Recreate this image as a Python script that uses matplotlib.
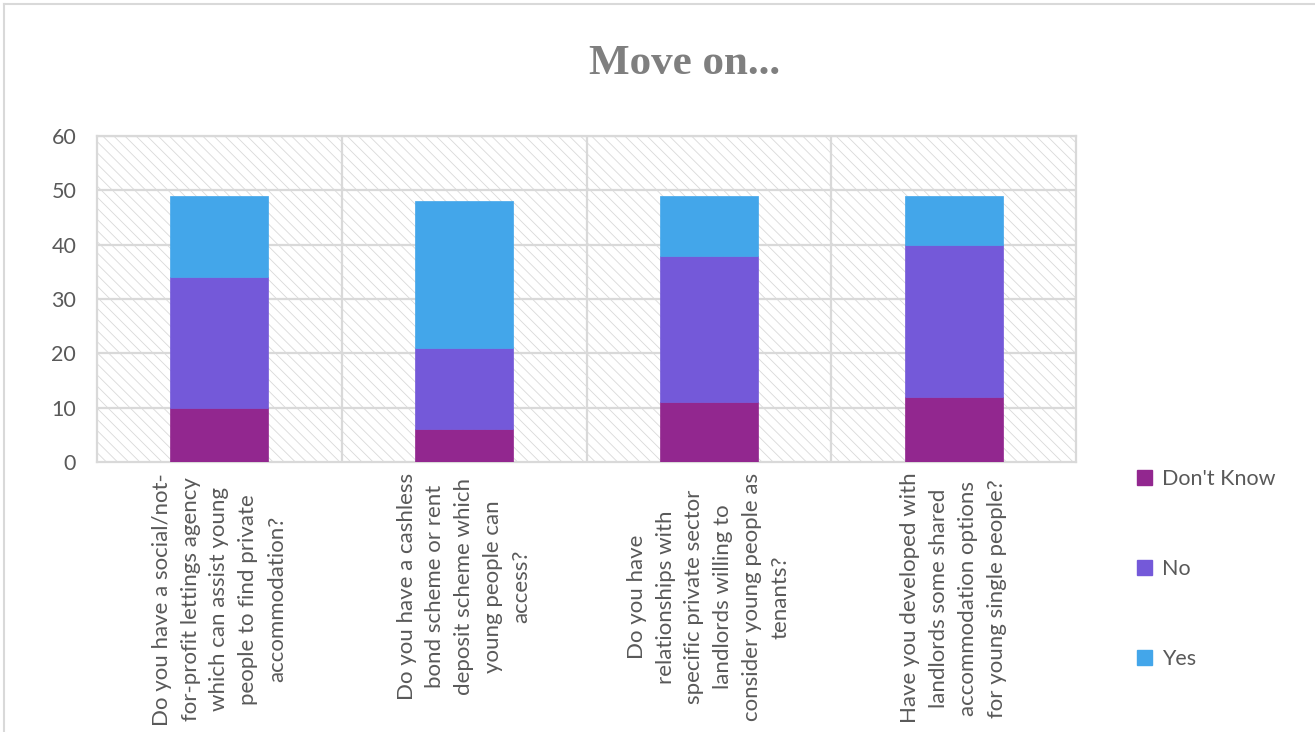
import numpy as np
import matplotlib
matplotlib.use('Agg')
import matplotlib.pyplot as plt
from matplotlib.lines import Line2D
from matplotlib.patches import Patch

questions = ['Do you have a social/not-\nfor-profit lettings agency\nwhich can assist young\npeople to find private\naccommodation?',
	'Do you have a cashless\nbond scheme or rent\ndeposit scheme which\nyoung people can\naccess?',
	'Do you have\nrelationships with\nspecific private sector\nlandlords willing to\nconsider young people as\ntenants?',
	'Have you developed with\nlandlords some shared\naccommodation options\nfor young single people?']
dont_know = [10, 6, 11, 12]
no = [24, 15, 27, 28]
yes = [15, 27, 11, 9]
series_names = ["Don't Know", 'No', 'Yes']
colors = ['#92278F', '#7459D9', '#43A6EA']

plt.rcParams['hatch.color'] = '#cfcfcf'
plt.rcParams['hatch.linewidth'] = 0.6
txt = '#595959'
grid = '#d9d9d9'

fig = plt.figure(figsize=(13.15, 7.32), dpi=100)
ax = fig.add_axes([97/1315, 1-462/732, (1076-97)/1315, (462-136)/732])

# hatched plot background
ax.set_facecolor('white')
ax.add_patch(plt.Rectangle((0, 0), 1, 1, transform=ax.transAxes, facecolor='none',
	edgecolor=grid, hatch='\\\\\\', linewidth=0, zorder=0))

x = np.arange(len(questions))
bot = np.zeros(len(x))
for vals, name, c in zip([dont_know, no, yes], series_names, colors):
	ax.bar(x, vals, 0.4, bottom=bot, color=c, edgecolor=c, linewidth=0.5, label=name, zorder=3)
	bot = bot + np.array(vals)

ax.set_xlim(-0.5, len(x)-0.5)
ax.set_ylim(0, 60)
ax.set_yticks(np.arange(0, 61, 10))
for v in np.arange(10, 61, 10):
	ax.axhline(v, color=grid, lw=1.6, zorder=1)
for b in np.arange(0.5, len(x)-0.5, 1):
	ax.axvline(b, color=grid, lw=1.6, zorder=1)
for s in ax.spines.values():
	s.set_color(grid)
	s.set_linewidth(1.6)
ax.tick_params(axis='both', length=0, colors=txt, labelsize=15.5)
ax.tick_params(axis='y', pad=15)
for lab in ax.get_yticklabels():
	lab.set_family('Lato')
	lab.set_horizontalalignment('right')
ax.set_xticks([])
for i, q in enumerate(questions):
	ax.text(i, -2.0, q, rotation=90, ha='center', va='top', multialignment='center',
		fontsize=16, family='Lato', color=txt, linespacing=1.55)

handles = [Patch(facecolor=c, edgecolor=c) for c in colors]
leg = fig.legend(handles, series_names, loc='upper left', bbox_to_anchor=(1118/1315, 1-450/732),
	frameon=False, handlelength=0.7, handleheight=0.7, handletextpad=0.45, labelspacing=3.25,
	prop={'family': 'Lato', 'size': 15.5})
for t in leg.get_texts():
	t.set_color(txt)

fig.text(685/1315, 1-64/732, 'Move on...', ha='center', va='center', fontsize=31,
	family='Liberation Serif', weight='bold', color='#7f7f7f')

# chart border (left and top visible)
fig.add_artist(Line2D([4/1315, 4/1315], [0, 1-4/732], color=grid, lw=1.5, transform=fig.transFigure))
fig.add_artist(Line2D([4/1315, 1], [1-4/732, 1-4/732], color=grid, lw=1.5, transform=fig.transFigure))

fig.savefig('out.png', dpi=100)
